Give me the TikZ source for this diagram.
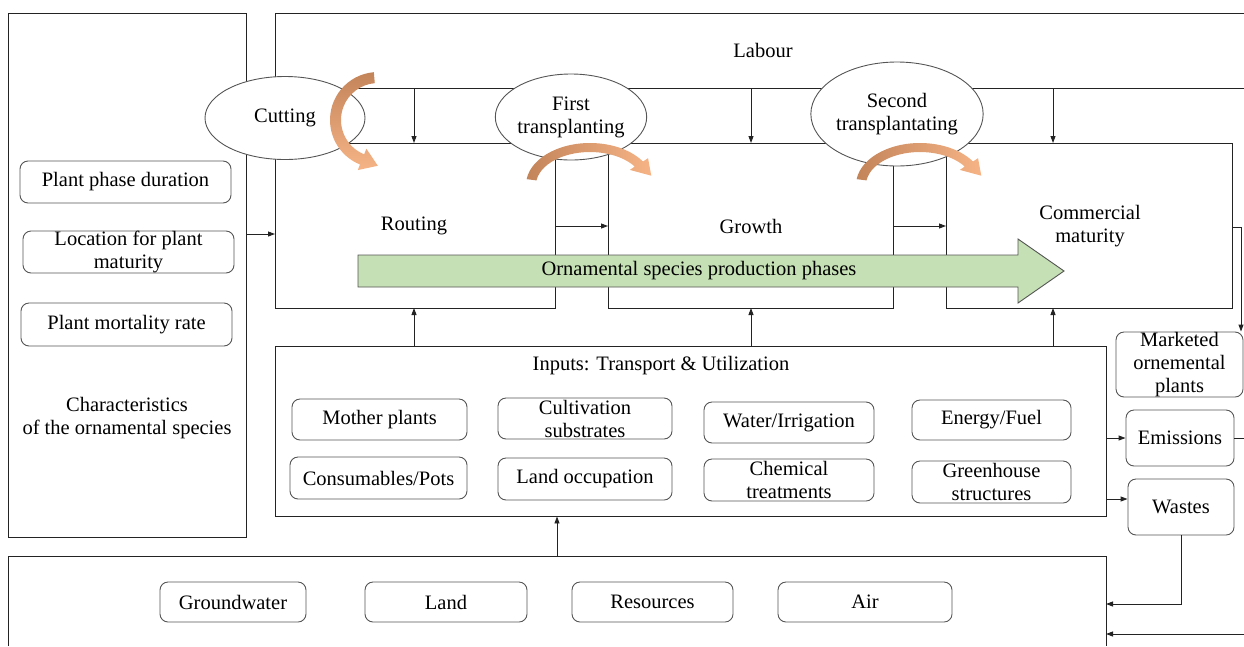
\documentclass[tikz,border=0pt]{standalone}
\usepackage{fontspec}
\setmainfont{Liberation Serif}
\usetikzlibrary{arrows.meta,shapes.geometric,calc}
\definecolor{orD}{RGB}{196,132,90}
\definecolor{orL}{RGB}{246,180,134}
\definecolor{grn}{RGB}{197,224,180}
\definecolor{lnc}{RGB}{35,35,35}
\definecolor{bxc}{RGB}{85,85,85}
\newcommand{\bentarrow}[9]{%
 \pgfmathsetmacro{\baAm}{(#3+#5)/2}%
 \pgfmathsetmacro{\baBm}{(#4+#6)/2}%
 \pgfmathsetmacro{\baSg}{(#8>#7)?1:-1}%
 \pgfmathsetmacro{\baDx}{-\baSg*\baAm*sin(#8)}%
 \pgfmathsetmacro{\baDy}{\baSg*\baBm*cos(#8)}%
 \pgfmathsetmacro{\baDn}{sqrt(\baDx*\baDx+\baDy*\baDy)}%
 \pgfmathsetmacro{\baTx}{#1+\baAm*cos(#8)+17*\baDx/\baDn}%
 \pgfmathsetmacro{\baTy}{#2+\baBm*sin(#8)+17*\baDy/\baDn}%
 \shade[#9] ({#1+#3*cos(#7)},{#2+#4*sin(#7)})
   arc[start angle=#7,end angle=#8,x radius=#3,y radius=#4]
   -- ({#1+(#3+6)*cos(#8)},{#2+(#4+6)*sin(#8)})
   -- (\baTx,\baTy)
   -- ({#1+(#5-6)*cos(#8)},{#2+(#6-6)*sin(#8)})
   -- ({#1+#5*cos(#8)},{#2+#6*sin(#8)})
   arc[start angle=#8,end angle=#7,x radius=#5,y radius=#6] -- cycle;%
}
\begin{document}
\begin{tikzpicture}[x=1pt,y=-1pt,font=\fontsize{20.5}{23}\selectfont,
 wire/.style={draw=lnc,line width=0.9pt},
 arr/.style={wire,-{Triangle[length=7pt,width=5pt]}},
 rbox/.style={draw=bxc,line width=0.9pt,rounded corners=8pt,fill=white,align=center,inner sep=0pt},
 oval/.style={ellipse,draw=bxc,line width=0.9pt,fill=white,align=center,inner sep=0pt},
 lbl/.style={align=center,inner sep=0pt}]
\useasboundingbox (0,0) rectangle (1244,646);

% ---------- left characteristics box
\node[wire,minimum width=238pt,minimum height=524pt,inner sep=0pt] (chr) at (127,275) {};
\node[rbox,minimum width=211pt,minimum height=42pt] (ppd) at (125.5,182) {Plant phase duration};
\node[rbox,minimum width=211pt,minimum height=42pt] (loc) at (128.5,252) {Location for plant\\maturity};
\node[rbox,minimum width=211pt,minimum height=43pt] (mort) at (126.5,324.5) {Plant mortality rate};
\node[lbl] (chrt) at (127,418) {Characteristics\\of the ornamental species};

% ---------- labour / phases frame
\coordinate (cutC) at (285,118);
\coordinate (ftC) at (571,117);
\coordinate (stC) at (897,114);
\draw[wire] (275,308) -- (275,13) -- (1244,13);
\draw[wire] (cutC |- 0,88) -- (1244,88);
\draw[wire] (cutC |- 0,143) -- (1232,143) -- (1232,308) -- (946,308) -- (946,114);
\draw[wire] (275,308) -- (555,308) -- (555,117);
\draw[wire] (608,117) -- (608,308) -- (893,308) -- (893,114);
\draw[arr] (414,88) -- (414,143);
\draw[arr] (751,88) -- (751,143);
\draw[arr] (1053,88) -- (1053,143);
\draw[arr] (555,226) -- (608,226);
\draw[arr] (893,226) -- (946,226);
\draw[arr] (chr.east |- 0,234) -- (275,234);

\node[lbl] (labour) at (763,50) {Labour};
\node[oval,minimum width=160pt,minimum height=83pt] (cut) at (cutC) {Cutting};
\node[oval,minimum width=148pt,minimum height=86pt] (ft) at (ftC) {First\\transplanting};
\node[oval,minimum width=160pt,minimum height=104pt] (st) at (stC) {Second\\transplantating};

\node[lbl] (rout) at (414,226) {Routing};
\node[lbl] (grow) at (751,226) {Growth};
\node[lbl] (comm) at (1090,226.5) {Commercial\\maturity};

% green arrow
\draw[fill=grn,draw=bxc,line width=0.9pt] (358,255) -- (1018,255) -- (1018,239) -- (1064,271) -- (1018,303) -- (1018,287) -- (358,287) -- cycle;
\node[lbl] (phases) at (699,271) {Ornamental species production phases};

% orange bent arrows
\bentarrow{378}{120}{48}{48}{37}{37}{265}{112}{top color=orD,bottom color=orL}
\bentarrow{590}{185}{64}{42}{54}{33}{188}{326}{left color=orD,right color=orL}
\bentarrow{920}{185}{64}{42}{54}{33}{188}{326}{left color=orD,right color=orL}

% ---------- inputs box
\node[wire,minimum width=831pt,minimum height=170pt,inner sep=0pt] (inp) at (690.5,431) {};
\node[lbl] (inpt) at (661,366) {Inputs: Transport \& Utilization};
\draw[arr] (414,346) -- (414,308);
\draw[arr] (751,346) -- (751,308);
\draw[arr] (1053,346) -- (1053,308);
\node[rbox,minimum width=175pt,minimum height=41pt] (moth) at (379.5,419.5) {Mother plants};
\node[rbox,minimum width=174pt,minimum height=41pt] (cult) at (585,418.5) {Cultivation\\substrates};
\node[rbox,minimum width=170pt,minimum height=41pt] (wat) at (789,422.5) {Water/Irrigation};
\node[rbox,minimum width=159pt,minimum height=40pt] (ener) at (991.5,420) {Energy/Fuel};
\node[rbox,minimum width=177pt,minimum height=42pt] (cons) at (378.5,478) {Consumables/Pots};
\node[rbox,minimum width=174pt,minimum height=42pt] (lando) at (585,479) {Land occupation};
\node[rbox,minimum width=170pt,minimum height=42pt] (chem) at (789,480) {Chemical\\treatments};
\node[rbox,minimum width=159pt,minimum height=42pt] (ghs) at (991.5,482) {Greenhouse\\structures};

% ---------- right side outputs
\node[rbox,minimum width=127pt,minimum height=65pt] (mkt) at (1179.5,364.5) {Marketed\\ornemental\\plants};
\node[rbox,minimum width=108pt,minimum height=56pt] (emis) at (1180,438) {Emissions};
\node[rbox,minimum width=106pt,minimum height=56pt] (wst) at (1181,507) {Wastes};
\draw[arr] (1232,227) -- (1241,227) -- (mkt.north -| 1241,0);
\draw[arr] (inp.east |- emis.west) -- (emis.west);
\draw[wire] (emis.east) -- (1244,438);
\draw[arr] (inp.east |- 0,499) -- (wst.west |- 0,499);

% ---------- bottom environment box
\draw[wire] (8,646) -- (8,556) -- (1106,556) -- (1106,646);
\coordinate (envIn1) at (1106,604);
\coordinate (envIn2) at (1106,634);
\draw[arr] (557,556) -- (inp.south -| 557,0);
\draw[arr] (wst.south) |- (envIn1);
\draw[arr] (1244,634) -- (envIn2);
\node[rbox,minimum width=146pt,minimum height=40pt] (gw) at (233,602) {Groundwater};
\node[rbox,minimum width=162pt,minimum height=40pt] (land) at (446,602) {Land};
\node[rbox,minimum width=161pt,minimum height=40pt] (res) at (652.5,602) {Resources};
\node[rbox,minimum width=174pt,minimum height=40pt] (air) at (865,602) {Air};
\end{tikzpicture}
\end{document}
